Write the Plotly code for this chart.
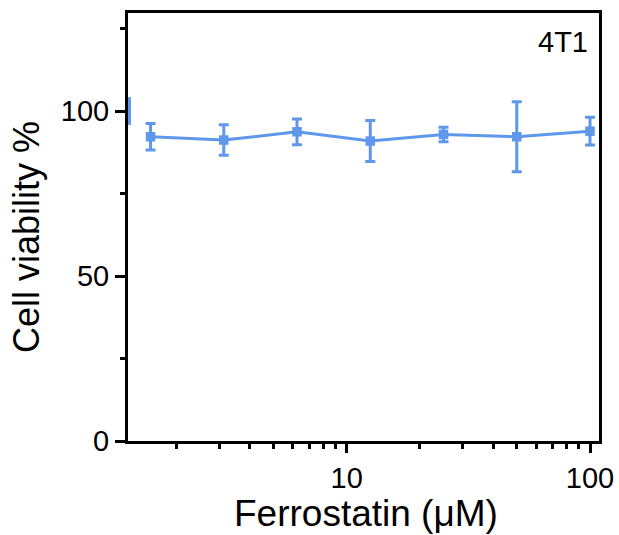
import plotly.graph_objects as go

conc = [1.5625, 3.125, 6.25, 12.5, 25, 50, 100]
viability = [92.2, 91.2, 93.7, 90.9, 92.9, 92.2, 93.9]
err = [4.0, 4.6, 3.9, 6.2, 2.2, 10.6, 4.2]

ctrl_x = [1.28]
ctrl_y = [100.0]
ctrl_err = [4.2]

color = "#5F97EB"
font_family = "Liberation Sans, Arial, sans-serif"

fig = go.Figure()
fig.add_trace(go.Scatter(
    x=ctrl_x, y=ctrl_y, mode="markers",
    marker=dict(symbol="square", size=9, color=color, opacity=0),
    error_y=dict(type="data", array=ctrl_err, color=color, thickness=3, width=0),
    showlegend=False, cliponaxis=True,
))
fig.add_trace(go.Scatter(
    x=conc, y=viability, mode="lines+markers",
    line=dict(color=color, width=3),
    marker=dict(symbol="square", size=9.5, color=color),
    error_y=dict(type="data", array=err, color=color, thickness=3, width=5),
    showlegend=False,
))

fig.update_layout(
    width=619, height=535,
    margin=dict(l=128, r=20, t=13, b=94),
    paper_bgcolor="white", plot_bgcolor="white",
    font=dict(family=font_family, color="black", size=29),
    annotations=[
        dict(text="4T1", x=0.981, y=0.933, xref="paper", yref="paper",
             xanchor="right", yanchor="middle", showarrow=False,
             font=dict(size=29, color="black", family=font_family)),
        dict(text="Ferrostatin (μM)", x=0.5053, y=-0.169, xref="paper", yref="paper",
             xanchor="center", yanchor="middle", showarrow=False,
             font=dict(size=37, color="black", family=font_family)),
        dict(text="Cell viability %", x=-0.2166, y=0.4766, xref="paper", yref="paper",
             xanchor="center", yanchor="middle", showarrow=False, textangle=-90,
             font=dict(size=36, color="black", family=font_family)),
    ],
)
fig.update_xaxes(
    type="log", range=[0.1012, 2.037], automargin=False,
    showgrid=False, zeroline=False,
    showline=True, linecolor="black", linewidth=3, mirror=True,
    ticks="outside", ticklen=9, tickwidth=3, tickcolor="black",
    tickvals=[10, 100], ticktext=["10", "100"],
    tickfont=dict(size=29),
    minor=dict(tickvals=[2, 3, 4, 5, 6, 7, 8, 9, 20, 30, 40, 50, 60, 70, 80, 90],
               ticks="outside", ticklen=5, tickwidth=3, tickcolor="black", showgrid=False),
)
fig.update_yaxes(
    range=[0, 129.7], automargin=False,
    showgrid=False, zeroline=False,
    showline=True, linecolor="black", linewidth=3, mirror=True,
    ticks="outside", ticklen=10, tickwidth=3, tickcolor="black",
    tickvals=[0, 50, 100],
    tickfont=dict(size=29),
    minor=dict(tickvals=[25, 75, 125], ticks="outside", ticklen=5, tickwidth=3,
               tickcolor="black", showgrid=False),
)

fig.write_html("out.html")
